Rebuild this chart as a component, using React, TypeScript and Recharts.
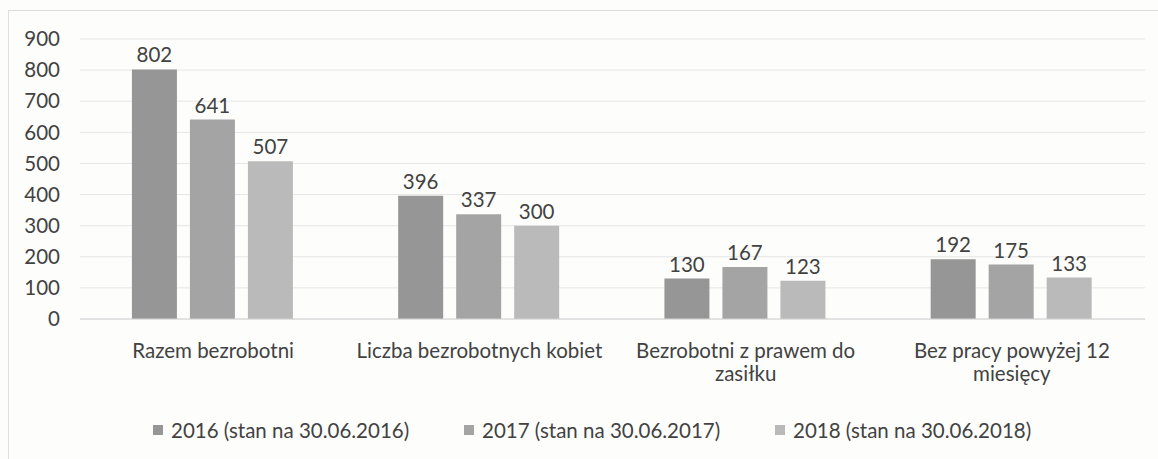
import { Bar, BarChart, CartesianGrid, LabelList, Legend, Text, XAxis, YAxis } from "recharts";

const categories = [
  "Razem bezrobotni",
  "Liczba bezrobotnych kobiet",
  "Bezrobotni z prawem do\nzasiłku",
  "Bez pracy powyżej 12\nmiesięcy"
];
const seriesNames = ["2016 (stan na 30.06.2016)", "2017 (stan na 30.06.2017)", "2018 (stan na 30.06.2018)"];
const values2016 = [802, 396, 130, 192];
const values2017 = [641, 337, 167, 175];
const values2018 = [507, 300, 123, 133];
const yTicks = [0, 100, 200, 300, 400, 500, 600, 700, 800, 900];

const colors = ["#969696", "#a4a4a4", "#bababa"];
const font = "Lato, 'Open Sans', sans-serif";
const textColor = "#424242";
const fontSize = 20.5;

const data = categories.map((name, i) => ({
  name,
  [seriesNames[0]]: values2016[i],
  [seriesNames[1]]: values2017[i],
  [seriesNames[2]]: values2018[i]
}));

function CategoryTick({ x, y, payload }: any) {
  const lines = String(payload.value).split("\n");
  return (
    <g>
      {lines.map((line, i) => (
        <Text
          key={i}
          x={x}
          y={y + 24 + i * 23}
          textAnchor="middle"
          verticalAnchor="middle"
          fontSize={fontSize}
          fontFamily={font}
          fill={textColor}
        >
          {line}
        </Text>
      ))}
    </g>
  );
}

function LegendContent({ payload }: any) {
  return (
    <div style={{ display: "flex", paddingLeft: 153, fontFamily: font, fontSize, color: textColor, lineHeight: "24px" }}>
      {(payload ?? []).map((item: any) => (
        <div key={item.value} style={{ width: 311, display: "flex", alignItems: "center" }}>
          <span style={{ width: 10, height: 10, background: item.color, marginRight: 8, display: "inline-block" }} />
          {item.value}
        </div>
      ))}
    </div>
  );
}

export default function App() {
  return (
    <div style={{ width: 1158, height: 459, background: "#fdfdfc", position: "relative", overflow: "hidden" }}>
      <style>{`body{margin:0}`}</style>
      <div
        style={{
          position: "absolute",
          left: 8,
          top: 10,
          width: 1200,
          height: 500,
          borderLeft: "1px solid #e0e0e0",
          borderTop: "1px solid #dcdcdc"
        }}
      />
      <BarChart
        width={1158}
        height={459}
        data={data}
        margin={{ top: 39, right: 13, bottom: 17, left: 0 }}
        barCategoryGap="19.5%"
        barGap={13}
      >
        <CartesianGrid stroke="#e6e6e6" vertical={false} />
        <XAxis
          dataKey="name"
          tick={<CategoryTick />}
          tickLine={false}
          axisLine={{ stroke: "#d4d4d4" }}
          height={99}
          interval={0}
        />
        <YAxis
          domain={[0, 900]}
          ticks={yTicks}
          width={80}
          tickLine={false}
          axisLine={false}
          tickMargin={14}
          tick={{ fontSize, fontFamily: font, fill: textColor }}
        />
        <Legend verticalAlign="bottom" height={24} content={<LegendContent />} />
        {seriesNames.map((s, i) => (
          <Bar key={s} dataKey={s} fill={colors[i]} isAnimationActive={false}>
            <LabelList
              dataKey={s}
              position="top"
              offset={7}
              style={{ fontSize, fontFamily: font, fill: textColor }}
            />
          </Bar>
        ))}
      </BarChart>
    </div>
  );
}
